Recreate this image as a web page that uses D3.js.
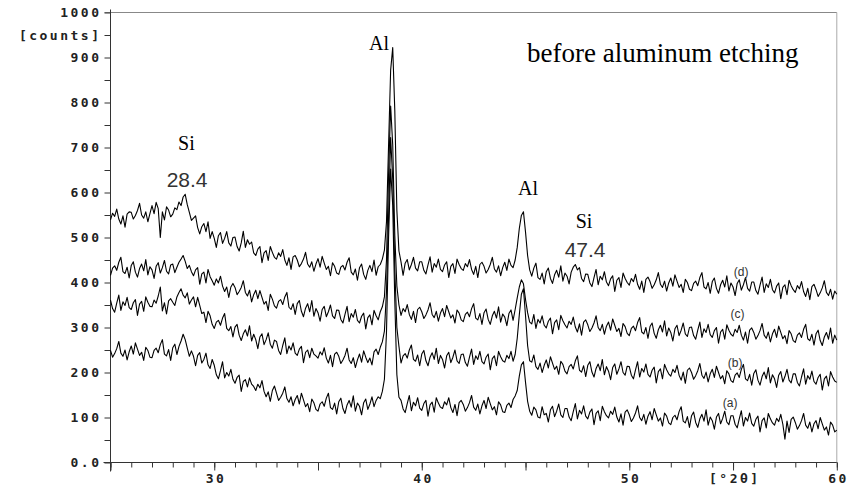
<!DOCTYPE html>
<html>
<head>
<meta charset="utf-8">
<script src="https://cdn.jsdelivr.net/npm/d3@7"></script>
<style>
  body { margin: 0; background: #fff; }
  .tick text { font-family: "DejaVu Sans Mono", monospace; font-weight: bold; font-size: 13px; letter-spacing: 2.5px; fill: #222; }
  .tick line { stroke: #333; }
</style>
</head>
<body>
<svg id="drawing_region"></svg>
<script>
// scan: 25.0 .. 60.0 deg, step 0.1
var scanStart = 25, scanStep = 0.1;

// (a) bottom trace
var seriesA = [
249,234,242,253,269,243,236,250,228,246,
259,241,266,252,238,245,227,256,249,234,
233,249,254,244,262,273,241,237,251,227,
255,263,240,258,270,285,273,254,236,248,
236,215,238,244,221,229,243,217,209,229,
216,195,186,204,224,188,200,192,207,185,
176,189,194,158,180,184,168,188,174,169,
160,174,166,182,158,146,157,136,160,170,
154,138,145,154,168,142,134,146,126,140,
149,130,154,139,124,131,113,141,133,118,
114,130,135,125,143,154,122,118,132,108,
135,143,120,109,128,138,123,148,114,132,
125,106,133,141,118,130,146,124,138,146,
142,158,185,290,500,652,572,360,195,145,
138,119,111,131,149,115,134,126,144,121,
116,131,138,103,128,134,112,144,132,123,
120,135,128,144,122,111,129,104,133,138,
129,114,122,133,149,123,116,130,108,126,
138,120,145,131,117,124,106,135,128,113,
111,127,132,122,140,148,160,192,217,224,
178,136,114,105,123,117,101,99,124,106,
109,90,117,125,102,114,130,106,100,120,
120,101,93,113,131,97,116,108,126,103,
97,112,119,84,109,115,93,125,113,104,
99,114,107,123,101,90,108,83,112,117,
106,91,99,110,126,100,93,107,85,103,
113,95,120,106,92,99,81,110,103,88,
84,100,105,95,113,124,92,88,102,78,
104,112,89,78,97,107,92,117,83,101,
93,74,101,109,86,98,114,90,84,104,
104,85,77,97,115,81,100,92,110,87,
81,96,103,68,93,99,77,109,97,88,
83,98,91,107,85,52,92,67,96,101,
89,74,82,93,109,83,76,90,68,86,
93,75,100,86,72,79,61,90,83,68,
72];

// (b)
var seriesB = [
361,342,334,354,372,338,357,349,367,344,
340,355,362,327,352,358,336,368,356,347,
346,361,354,370,390,337,355,330,359,364,
356,349,368,378,386,372,366,377,352,361,
368,346,367,349,331,334,311,336,326,307,
298,312,316,305,321,331,298,293,302,279,
301,307,283,271,286,295,281,304,270,285,
273,253,279,286,262,273,288,263,254,272,
269,249,240,260,277,242,259,250,266,243,
238,252,258,222,245,250,233,254,241,237,
232,246,239,255,232,221,238,213,241,245,
236,220,228,238,254,228,220,233,211,228,
241,223,248,234,222,232,217,246,252,240,
256,268,292,380,545,722,630,430,300,258,
221,237,242,232,250,261,229,225,239,215,
241,249,226,215,234,244,229,254,220,238,
229,210,237,245,222,234,250,226,220,240,
241,222,214,234,252,218,237,229,247,224,
219,234,241,206,231,237,215,247,235,226,
223,238,231,247,225,240,276,328,374,386,
326,260,226,223,239,213,207,221,200,216,
228,210,235,221,207,214,196,225,218,203,
197,213,218,208,226,237,205,201,215,191,
216,224,201,190,209,219,204,229,195,213,
203,184,211,219,196,208,224,200,194,214,
213,194,186,206,224,190,209,201,219,196,
190,205,212,177,202,208,186,218,206,197,
192,207,200,216,194,183,201,176,205,210,
200,185,193,204,220,194,187,201,179,197,
207,189,214,200,186,193,175,204,197,182,
178,194,199,189,207,218,186,182,196,172,
198,206,183,172,191,201,186,211,177,195,
186,167,194,202,179,191,207,183,177,197,
197,178,170,190,208,174,193,185,203,180,
174,189,196,161,186,192,170,202,190,181,
178];

// (c)
var seriesC = [
416,432,437,427,445,456,424,420,434,410,
438,446,423,412,431,441,426,451,417,435,
428,409,436,444,421,433,449,425,419,439,
441,422,434,445,452,460,447,431,438,424,
415,428,433,396,419,423,399,429,413,404,
394,408,399,414,392,380,390,367,390,398,
389,373,380,389,404,378,370,383,357,373,
383,364,382,367,352,358,338,374,363,348,
343,358,362,351,368,378,345,340,353,329,
353,360,336,324,343,353,335,360,325,342,
333,314,340,347,324,335,350,326,320,339,
338,318,310,329,347,313,331,323,340,316,
310,325,332,297,322,328,306,338,326,317,
335,346,368,450,640,792,706,505,392,350,
327,342,335,351,329,318,336,311,340,345,
335,320,328,339,355,329,322,336,314,332,
342,324,349,335,321,328,310,339,332,317,
313,329,334,324,342,353,321,317,331,307,
333,341,318,307,326,336,321,346,312,330,
323,304,331,339,316,340,366,390,406,397,
362,333,312,308,329,298,318,310,326,305,
299,314,321,286,311,317,295,327,315,306,
299,314,307,323,301,290,308,283,312,317,
306,291,299,310,326,300,293,307,285,303,
312,294,319,305,291,298,280,309,302,287,
282,298,303,293,311,322,290,286,300,276,
302,310,287,276,295,305,290,315,281,299,
289,270,297,305,282,294,310,286,280,300,
301,282,274,294,312,278,297,289,307,284,
278,293,300,265,290,296,274,306,294,285,
281,296,289,305,283,272,290,265,294,299,
289,274,282,293,309,283,276,290,268,286,
296,278,303,289,275,282,264,293,286,271,
267,283,288,278,296,307,275,271,285,261,
286,294,271,260,279,289,274,299,265,283,
272];

// (d) top trace
var seriesD = [
539,554,547,563,541,530,548,523,552,557,
556,541,549,560,576,550,543,557,535,553,
571,553,578,564,500,557,539,568,561,546,
552,566,562,579,571,590,596,573,556,538,
543,548,522,508,524,531,513,535,498,513,
498,478,504,511,487,498,513,488,481,500,
501,480,470,488,514,478,495,485,490,466,
460,474,480,444,466,471,449,480,467,456,
452,466,458,473,450,438,455,429,457,460,
450,435,442,452,467,441,434,446,425,441,
453,434,458,443,429,436,415,444,436,421,
418,434,438,428,445,455,423,417,430,405,
433,441,418,407,427,438,424,450,416,435,
440,452,472,535,705,872,922,782,560,470,
446,416,443,451,428,440,456,432,426,446,
446,427,419,439,457,423,442,434,452,429,
424,439,446,411,436,442,420,452,440,431,
427,442,435,451,429,418,436,411,440,445,
436,421,429,440,456,430,423,437,415,433,
445,427,452,438,433,450,478,520,549,557,
512,460,428,414,432,443,411,407,421,397,
424,432,409,398,417,427,412,437,403,421,
414,397,423,434,440,428,433,409,402,419,
418,399,391,411,429,395,414,406,424,401,
393,408,415,380,405,411,389,421,409,400,
394,409,402,418,396,385,403,378,407,412,
402,387,395,406,422,396,389,403,381,399,
410,392,417,403,389,396,378,407,400,385,
382,398,403,393,411,422,390,386,400,376,
402,410,387,376,395,405,390,415,381,399,
390,371,398,406,383,395,411,387,381,401,
401,382,374,394,412,378,397,389,407,384,
377,392,399,364,389,395,373,405,393,384,
378,393,386,402,380,369,387,362,391,396,
384,369,377,388,404,378,371,385,363,381,
374];

var seriesNames = ['(a)', '(b)', '(c)', '(d)'];
var seriesLabelPos = [[54.86, 123], [55.10, 212], [55.22, 321], [55.39, 414]]; // [2θ, counts] of the small trace labels
var yTicks = [0, 100, 200, 300, 400, 500, 600, 700, 800, 900, 1000];
var yMinorTicks = [50, 150, 250, 350, 450, 550, 650, 750, 850, 950];
var xLabelTicks = [30, 40, 50, 60];

var width = 855;
var height = 490;
var margin = {top: 12.5, right: 18.2, bottom: 27.5, left: 110.5};
const inner_width = width - margin.left - margin.right;
const inner_height = height - margin.top - margin.bottom;

var svg = d3.select('#drawing_region')
    .attr('width', width)
    .attr('height', height);

var chart = svg.append('g')
    .attr('transform', `translate(${margin.left}, ${margin.top})`);

const xscale = d3.scaleLinear()
      .domain([25, 60])
      .range([0, inner_width]);

const yscale = d3.scaleLinear()
      .domain([0, 1000])
      .range([inner_height, 0]);

// frame (top and right are the faint scanner border)
chart.append('line')
    .attr('x1', -6).attr('x2', inner_width).attr('y1', 0).attr('y2', 0)
    .attr('stroke', '#888');
chart.append('line')
    .attr('x1', inner_width).attr('x2', inner_width).attr('y1', 0).attr('y2', inner_height)
    .attr('stroke', '#aaa');

// y axis
const yaxis = d3.axisLeft(yscale)
      .tickValues(yTicks)
      .tickSize(6)
      .tickPadding(3)
      .tickSizeOuter(0)
      .tickFormat(d => d === 0 ? '0.0' : d);
const yaxis_group = chart.append('g').call(yaxis);
yaxis_group.select('.domain').remove();

const yminor = d3.axisLeft(yscale)
      .tickValues(yMinorTicks)
      .tickSize(6)
      .tickPadding(3)
      .tickFormat(d => d === 950 ? '[counts]' : '');
const yminor_group = chart.append('g').call(yminor);
yminor_group.select('.domain').remove();

// x axis
const xminor = d3.axisBottom(xscale)
      .tickValues(d3.range(25, 61, 1))
      .tickSize(5)
      .tickFormat('');
const xminor_group = chart.append('g')
      .attr('transform', `translate(0, ${inner_height})`)
      .call(xminor);
xminor_group.select('.domain').remove();

const xaxis = d3.axisBottom(xscale)
      .tickValues([25, 30, 35, 40, 45, 50, 55, 60])
      .tickSize(8)
      .tickPadding(3)
      .tickFormat(d => xLabelTicks.includes(d) ? d : (d === 55 ? '[°2θ]' : ''));
const xaxis_group = chart.append('g')
      .attr('transform', `translate(0, ${inner_height})`)
      .call(xaxis);
xaxis_group.select('.domain').remove();
xaxis_group.selectAll('text').attr('dx', '1.25');

// axis lines
chart.append('line')
    .attr('x1', 0).attr('x2', 0).attr('y1', -3).attr('y2', inner_height + 9)
    .attr('stroke', '#333');
chart.append('line')
    .attr('x1', -7).attr('x2', inner_width).attr('y1', inner_height).attr('y2', inner_height)
    .attr('stroke', '#333');

// traces
var allSeries = [seriesA, seriesB, seriesC, seriesD];
const line = d3.line()
      .x((d, i) => xscale(scanStart + i * scanStep))
      .y(d => yscale(d));

chart.selectAll('path.trace').data(allSeries).enter()
    .append('path')
    .attr('class', 'trace')
    .attr('d', d => line(d))
    .attr('fill', 'none')
    .attr('stroke', '#000')
    .attr('stroke-width', 1.1)
    .attr('stroke-linejoin', 'round');

// small series labels
chart.selectAll('text.slabel').data(seriesNames).enter()
    .append('text')
    .attr('class', 'slabel')
    .attr('x', (d, i) => xscale(seriesLabelPos[i][0]))
    .attr('y', (d, i) => yscale(seriesLabelPos[i][1]))
    .attr('text-anchor', 'middle')
    .attr('font-family', 'Liberation Sans, Arial, sans-serif')
    .attr('font-size', 12)
    .attr('fill', '#333')
    .text(d => d);

// peak annotations
var notes = [
  {t: 'Al', x: 37.94, y: 917, font: 'Liberation Serif', size: 20, fill: '#000'},
  {t: 'Si', x: 28.66, y: 694, font: 'Liberation Serif', size: 20, fill: '#000'},
  {t: '28.4', x: 28.69, y: 612, font: 'Liberation Sans', size: 21, fill: '#333'},
  {t: 'Al', x: 45.12, y: 594, font: 'Liberation Serif', size: 20, fill: '#000'},
  {t: 'Si', x: 47.82, y: 521, font: 'Liberation Serif', size: 20, fill: '#000'},
  {t: '47.4', x: 47.87, y: 457, font: 'Liberation Sans', size: 21, fill: '#333'}
];
chart.selectAll('text.note').data(notes).enter()
    .append('text')
    .attr('class', 'note')
    .attr('x', d => xscale(d.x))
    .attr('y', d => yscale(d.y))
    .attr('text-anchor', 'middle')
    .attr('font-family', d => d.font)
    .attr('font-size', d => d.size)
    .attr('fill', d => d.fill)
    .text(d => d.t);

chart.append('text')
    .attr('x', xscale(45.07))
    .attr('y', yscale(890))
    .attr('font-family', 'Liberation Serif')
    .attr('font-size', 27)
    .attr('fill', '#000')
    .text('before aluminum etching');
</script>
</body>
</html>
